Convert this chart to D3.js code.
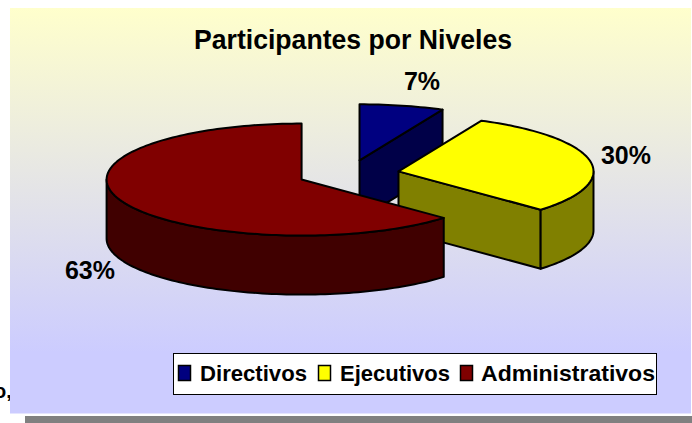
<!DOCTYPE html>
<html>
<head>
<meta charset="utf-8">
<script src="https://cdn.jsdelivr.net/npm/d3@7"></script>
<style>
  html, body { margin: 0; padding: 0; background: #fff; }
  svg { display: block; }
  text { font-family: "Liberation Sans", Arial, sans-serif; font-weight: bold; fill: #000; }
</style>
</head>
<body>
<svg id="chart" width="692" height="423"></svg>
<script>
const categories = ["Directivos", "Ejecutivos", "Administrativos"];
const values = [7, 30, 63];
const valueLabels = ["7%", "30%", "63%"];
const topColors = ["#000080", "#ffff00", "#800000"];
const sideColors = ["#000048", "#808000", "#400000"];

const svg = d3.select("#chart");

// fondo con degradado
const grad = svg.append("defs").append("linearGradient")
  .attr("id", "bg").attr("x1", 0).attr("y1", 0).attr("x2", 0).attr("y2", 1);
grad.append("stop").attr("offset", "0%").attr("stop-color", "#ffffcc");
grad.append("stop").attr("offset", "85%").attr("stop-color", "#ccccff");

// resto de texto de la pagina, tapado por el panel
svg.append("text").attr("x", -6).attr("y", 398).attr("font-size", 20).attr("font-weight", "normal").text("o,");

svg.append("rect").attr("x", 25).attr("y", 416).attr("width", 667).attr("height", 7).attr("fill", "#808080");
svg.append("rect").attr("x", 10).attr("y", 8).attr("width", 681).attr("height", 405.5).attr("fill", "url(#bg)");

svg.append("text").attr("x", 353).attr("y", 49)
  .attr("text-anchor", "middle").attr("font-size", 28)
  .attr("textLength", 318).attr("lengthAdjust", "spacingAndGlyphs")
  .text("Participantes por Niveles");

// pastel 3D: elipse + profundidad
const rx = 195, ry = 56, depth = 59;
const cx = 348.4, cy = 174;
const explodeX = 51, explodeY = 14;

const pie = d3.pie().sort(null);
const slices = pie(values);

const line = d3.line();
const HALF = Math.PI / 2;

function rim(s, a, dy) {
  const ox = cx + explodeX * Math.sin((s.startAngle + s.endAngle) / 2);
  const oy = cy - explodeY * Math.cos((s.startAngle + s.endAngle) / 2);
  if (a === null) return [ox, oy + dy];
  return [ox + rx * Math.sin(a), oy - ry * Math.cos(a) + dy];
}

function sweep(a0, a1) {
  const n = Math.max(2, Math.ceil((a1 - a0) * 40));
  return d3.range(n + 1).map(i => a0 + (a1 - a0) * i / n);
}

const pieG = svg.append("g")
  .attr("stroke", "#000").attr("stroke-width", 2).attr("stroke-linejoin", "round");

slices.forEach((s, i) => {
  // cara radial visible
  if (s.endAngle < Math.PI) {
    const pts = [rim(s, null, 0), rim(s, s.endAngle, 0), rim(s, s.endAngle, depth), rim(s, null, depth)];
    pieG.append("path").attr("d", line(pts) + "Z").attr("fill", sideColors[i]);
  }
  // lado exterior
  const a0 = Math.max(s.startAngle, HALF), a1 = Math.min(s.endAngle, 3 * HALF);
  if (a1 > a0) {
    const angles = sweep(a0, a1);
    const pts = angles.map(a => rim(s, a, 0)).concat(angles.slice().reverse().map(a => rim(s, a, depth)));
    pieG.append("path").attr("d", line(pts) + "Z").attr("fill", sideColors[i]);
  }
  // cara superior
  const top = [rim(s, null, 0)].concat(sweep(s.startAngle, s.endAngle).map(a => rim(s, a, 0)));
  pieG.append("path").attr("d", line(top) + "Z").attr("fill", topColors[i]);
});

const labelPos = [[422, 90], [626, 164], [90, 279]];
svg.selectAll("text.pct").data(valueLabels).join("text")
  .attr("class", "pct")
  .attr("x", (d, i) => labelPos[i][0])
  .attr("y", (d, i) => labelPos[i][1])
  .attr("text-anchor", "middle")
  .attr("font-size", 25)
  .text(d => d);

// leyenda
svg.append("rect").attr("x", 173.5).attr("y", 353.5).attr("width", 483).attr("height", 41)
  .attr("fill", "#fff").attr("stroke", "#000");

const legendX = [178, 318, 460];
const legendTextX = [200, 340, 481];
const legendTextW = [107, 110, 174];
const legend = svg.selectAll("g.item").data(categories).join("g").attr("class", "item");
legend.append("rect").attr("x", (d, i) => legendX[i] + 0.5).attr("y", 365.5).attr("width", 12).attr("height", 15)
  .attr("fill", (d, i) => topColors[i]).attr("stroke", "#000").attr("stroke-width", 1.5);
legend.append("text").attr("x", (d, i) => legendTextX[i]).attr("y", 381).attr("font-size", 22)
  .attr("textLength", (d, i) => legendTextW[i]).attr("lengthAdjust", "spacingAndGlyphs")
  .text(d => d);
</script>
</body>
</html>
